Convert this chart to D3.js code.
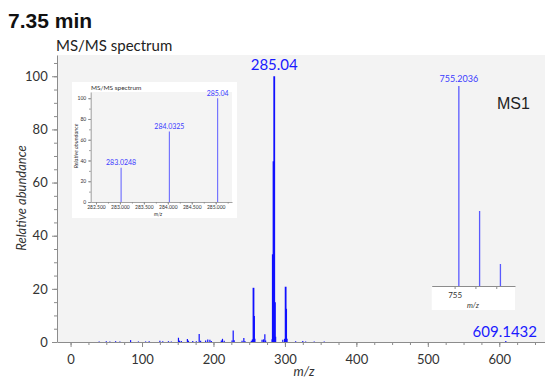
<!DOCTYPE html>
<html>
<head>
<meta charset="utf-8">
<script src="https://cdn.jsdelivr.net/npm/d3@7"></script>
<style>
  body { margin: 0; background: #fff; }
  svg text { font-family: Lato, "Open Sans", sans-serif; }
  .axis path, .axis line { stroke: #8c8c8c; }
  .axis text { fill: #333; }
</style>
</head>
<body>
<div id="chart"></div>
<script>
const width = 545,
  height = 381;

// main MS/MS spectrum (m/z, relative abundance)
const mainMz = [40, 50, 55, 63, 69, 84, 95, 105, 110, 125, 129, 137, 141, 151, 152.5, 155, 163.5, 165, 171, 176, 180, 182,
  189, 192, 195, 197, 211, 212.6, 215, 226, 227.6, 229, 240, 242.5, 244, 253, 254.5, 256, 256.8, 258, 268, 270, 271.9, 273,
  282, 283.02, 283.5, 284.03, 284.5, 285.04, 286, 287, 297, 299.5, 301, 301.7, 303, 315, 325, 329, 341, 355, 609.14];
const mainAbund = [0.2, 0.3, 0.2, 0.3, 0.2, 0.7, 0.2, 0.2, 0.3, 0.5, 0.3, 0.3, 0.2, 1.6, 0.5, 0.4, 1.1, 0.5, 0.4, 0.3, 3.0, 0.5,
  0.6, 0.9, 0.8, 0.4, 0.6, 1.2, 0.5, 0.6, 4.3, 0.7, 0.5, 1.5, 0.4, 0.5, 1.0, 20.4, 9.8, 1.2, 0.8, 1.0, 2.9, 0.6,
  1.0, 33, 12, 68, 20, 100, 15, 2.0, 0.8, 1.2, 20.8, 12.5, 1.2, 0.3, 0.4, 0.2, 0.2, 0.2, 0.4];

// zoomed MS/MS inset
const insetMz = [283.0248, 284.0325, 285.04];
const insetAbund = [33, 68, 100];
const insetLabels = ["283.0248", "284.0325", "285.04"];

// MS1 isotope inset
const ms1Mz = [755.2036, 756.2, 757.2];
const ms1Abund = [100, 37.5, 11];

const xTicks = [0, 100, 200, 300, 400, 500, 600];
const yTicks = [0, 20, 40, 60, 80, 100];
const insetXTicks = [282.5, 283, 283.5, 284, 284.5, 285];

const svg = d3.select("#chart")
  .append("svg")
  .attr("width", width)
  .attr("height", height);

// TITLES
svg.append("text")
  .attr("x", 8).attr("y", 28)
  .style("font-family", "'Liberation Sans', Arial, sans-serif")
  .attr("font-weight", "bold")
  .attr("font-size", 21)
  .attr("fill", "#111")
  .text("7.35 min");

svg.append("text")
  .attr("x", 56).attr("y", 51)
  .attr("font-size", 15)
  .attr("fill", "#222")
  .text("MS/MS spectrum");

// MAIN SCALES
const xScale = d3.scaleLinear().domain([-19, 664]).range([57, 545]);
const yScale = d3.scaleLinear().domain([0, 108]).range([342, 55]);

svg.append("rect")
  .attr("x", 57).attr("y", 55)
  .attr("width", 545 - 57).attr("height", 342 - 55)
  .attr("fill", "#f3f3f3");

// minor ticks
svg.append("g")
  .attr("class", "axis")
  .attr("transform", `translate(0,342)`)
  .call(d3.axisBottom(xScale).tickValues(d3.range(0, 664, 25)).tickSize(3).tickFormat(""))
  .call(g => g.select(".domain").remove());
svg.append("g")
  .attr("class", "axis")
  .attr("transform", `translate(57,0)`)
  .call(d3.axisLeft(yScale).tickValues(d3.range(0, 106, 5)).tickSize(3).tickFormat(""))
  .call(g => g.select(".domain").remove());

// major axes
svg.append("g")
  .attr("class", "axis x-axis")
  .attr("transform", `translate(0,342)`)
  .call(d3.axisBottom(xScale).tickValues(xTicks).tickSize(5).tickSizeOuter(0))
  .call(g => g.selectAll("text").attr("font-size", 13).attr("dy", "1.05em"));

svg.append("g")
  .attr("class", "axis y-axis")
  .attr("transform", `translate(57,0)`)
  .call(d3.axisLeft(yScale).tickValues(yTicks).tickSize(5).tickSizeOuter(0))
  .call(g => g.selectAll("text").attr("font-size", 13).attr("dx", "-0.1em"));

svg.append("text")
  .attr("x", 304).attr("y", 376)
  .attr("text-anchor", "middle")
  .attr("font-style", "italic")
  .attr("font-size", 13)
  .attr("fill", "#333")
  .text("m/z");

svg.append("text")
  .attr("transform", "translate(26,198) rotate(-90)")
  .attr("text-anchor", "middle")
  .attr("font-style", "italic")
  .attr("font-size", 13)
  .attr("fill", "#333")
  .text("Relative abundance");

// PEAKS
svg.append("g")
  .selectAll("line")
  .data(mainMz)
  .join("line")
  .attr("x1", d => xScale(d))
  .attr("x2", d => xScale(d))
  .attr("y1", yScale(0))
  .attr("y2", (d, i) => yScale(mainAbund[i]))
  .attr("stroke", "#1010ff")
  .attr("stroke-width", (d, i) => mainAbund[i] > 5 ? 1.8 : 1.2);

svg.append("text")
  .attr("x", xScale(285.04)).attr("y", 70)
  .attr("text-anchor", "middle")
  .attr("font-size", 15)
  .attr("fill", "#1a1aff")
  .text("285.04");

svg.append("text")
  .attr("x", 537).attr("y", 337)
  .attr("text-anchor", "end")
  .attr("font-size", 15)
  .attr("fill", "#1a1aff")
  .text("609.1432");

// MS/MS INSET
const inset = svg.append("g");
inset.append("rect")
  .attr("x", 72).attr("y", 82)
  .attr("width", 165).attr("height", 136)
  .attr("fill", "#fff");

const ix = d3.scaleLinear().domain([282.39, 285.34]).range([90.7, 232]);
const iy = d3.scaleLinear().domain([0, 106]).range([202, 92]);

inset.append("rect")
  .attr("x", 90.7).attr("y", 92)
  .attr("width", 232 - 90.7).attr("height", 110)
  .attr("fill", "#f4f4f4");

inset.append("text")
  .attr("x", 91).attr("y", 90)
  .attr("font-size", 6.5)
  .attr("fill", "#333")
  .text("MS/MS spectrum");

inset.append("g")
  .attr("class", "axis")
  .attr("transform", `translate(0,202)`)
  .call(d3.axisBottom(ix).tickValues(d3.range(282.5, 285.3, 0.25)).tickSize(1.5).tickFormat(""))
  .call(g => g.select(".domain").remove());

inset.append("g")
  .attr("class", "axis")
  .attr("transform", `translate(0,202)`)
  .call(d3.axisBottom(ix).tickValues(insetXTicks).tickSize(2.5).tickSizeOuter(0).tickFormat(d3.format(".3f")))
  .call(g => g.selectAll("text").attr("font-size", 5).attr("y", 3.5).attr("dy", "0.71em"))
  .call(g => g.select(".domain").attr("stroke-width", 0.8));

inset.append("g")
  .attr("class", "axis")
  .attr("transform", `translate(90.7,0)`)
  .call(d3.axisLeft(iy).tickValues(d3.range(0, 101, 10)).tickSize(1.5).tickFormat(""))
  .call(g => g.select(".domain").remove());

inset.append("g")
  .attr("class", "axis")
  .attr("transform", `translate(90.7,0)`)
  .call(d3.axisLeft(iy).tickValues(yTicks).tickSize(2.5).tickSizeOuter(0))
  .call(g => g.selectAll("text").attr("font-size", 5).attr("dx", "0.2em"))
  .call(g => g.select(".domain").attr("stroke-width", 0.8));

inset.append("text")
  .attr("x", 158).attr("y", 215.5)
  .attr("text-anchor", "middle")
  .attr("font-style", "italic")
  .attr("font-size", 5)
  .attr("fill", "#333")
  .text("m/z");

inset.append("text")
  .attr("transform", "translate(78,146) rotate(-90)")
  .attr("text-anchor", "middle")
  .attr("font-style", "italic")
  .attr("font-size", 5.5)
  .attr("fill", "#333")
  .text("Relative abundance");

inset.append("g")
  .selectAll("line")
  .data(insetMz)
  .join("line")
  .attr("x1", d => ix(d))
  .attr("x2", d => ix(d))
  .attr("y1", iy(0))
  .attr("y2", (d, i) => iy(insetAbund[i]))
  .attr("stroke", "#6a6aff")
  .attr("stroke-width", 1.1);

inset.append("g")
  .selectAll("text")
  .data(insetMz)
  .join("text")
  .attr("x", d => ix(d))
  .attr("y", (d, i) => iy(insetAbund[i]) - 2.5)
  .attr("text-anchor", "middle")
  .attr("font-size", 7)
  .attr("fill", "#3a3aff")
  .text((d, i) => insetLabels[i]);

// MS1 INSET
const ms1x = d3.scaleLinear().domain([753.9, 757.9]).range([431.7, 515]);
const ms1y = d3.scaleLinear().domain([0, 100]).range([286, 86]);

svg.append("rect")
  .attr("x", 431.7).attr("y", 286)
  .attr("width", 515 - 431.7).attr("height", 24)
  .attr("fill", "#fff");

svg.append("g")
  .attr("class", "axis")
  .attr("transform", `translate(0,286)`)
  .call(d3.axisBottom(ms1x).tickValues([755, 756, 757]).tickSize(3).tickSizeOuter(0)
    .tickFormat(d => d === 755 ? "755" : ""))
  .call(g => g.selectAll("text").attr("font-size", 8).attr("dy", "0.8em"));

svg.append("text")
  .attr("x", 473).attr("y", 308)
  .attr("text-anchor", "middle")
  .attr("font-style", "italic")
  .attr("font-size", 7.5)
  .attr("fill", "#333")
  .text("m/z");

svg.append("g")
  .selectAll("line")
  .data(ms1Mz)
  .join("line")
  .attr("x1", d => ms1x(d))
  .attr("x2", d => ms1x(d))
  .attr("y1", ms1y(0))
  .attr("y2", (d, i) => ms1y(ms1Abund[i]))
  .attr("stroke", "#5a5aff")
  .attr("stroke-width", 1.3);

svg.append("text")
  .attr("x", ms1x(755.2036)).attr("y", 82)
  .attr("text-anchor", "middle")
  .attr("font-size", 9)
  .attr("fill", "#3a3aff")
  .text("755.2036");

svg.append("text")
  .attr("x", 497).attr("y", 109)
  .style("font-family", "'Liberation Sans', Arial, sans-serif")
  .attr("font-size", 16)
  .attr("fill", "#222")
  .text("MS1");
</script>
</body>
</html>
